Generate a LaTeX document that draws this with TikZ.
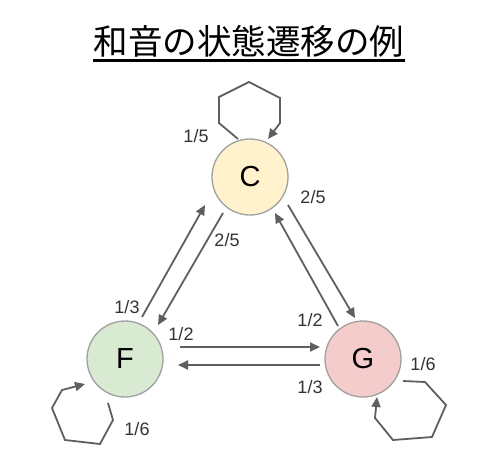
\documentclass[tikz,border=0pt]{standalone}
\usepackage{fontspec}
\setmainfont{Liberation Sans}
\newfontfamily\cjkfont{Noto Sans CJK JP}
\usetikzlibrary{arrows.meta,calc}
\definecolor{linegray}{HTML}{5F5F5F}
\definecolor{bordergray}{HTML}{A0A0A0}
\definecolor{cfill}{HTML}{FFF2CC}
\definecolor{ffill}{HTML}{D9EAD3}
\definecolor{gfill}{HTML}{F4CCCC}
\definecolor{labelcol}{HTML}{333333}
\tikzset{
  chord/.style={circle, draw=bordergray, line width=1.3pt, minimum size=76pt, inner sep=0pt,
    font=\fontsize{29}{31}\selectfont},
  arr/.style={draw=linegray, line width=1.8pt, -{Triangle[length=10pt,width=9pt]}, line join=miter},
  prob/.style={font=\fontsize{18}{20}\selectfont, text=labelcol, inner sep=0pt}
}
\begin{document}
\begin{tikzpicture}[x=1pt,y=-1pt]
\useasboundingbox (0,0) rectangle (500,469);
\fill[white] (0,0) rectangle (500,469);
% title
\node[anchor=base, inner sep=0pt, font=\cjkfont\fontsize{34.5}{36}\selectfont] (title) at (249,54.5) {和音の状態遷移の例};
\draw[line width=2.2pt] ($(title.base west)+(-1,6)$) -- ($(title.base east)+(1,6)$);
% nodes
\node[chord, fill=cfill] (C) at (250,177) {C};
\node[chord, fill=ffill] (F) at (125,359) {F};
\node[chord, fill=gfill] (G) at (363,359) {G};
% self loops
\draw[arr] ($(C)+(-12,-38)$) -- ($(C)+(-31,-54)$) -- ($(C)+(-31,-80)$) -- ($(C)+(-1,-95)$)
  -- ($(C)+(30,-79)$) -- ($(C)+(30,-54)$) -- ($(C)+(18,-38)$);
\draw[arr] ($(F)+(-17,44)$) -- ($(F)+(-12,61)$) -- ($(F)+(-25,85)$) -- ($(F)+(-60,81)$)
  -- ($(F)+(-73,49)$) -- ($(F)+(-63,31)$) -- ($(F)+(-40,25)$);
\draw[arr] ($(G)+(40,22)$) -- ($(G)+(62,23)$) -- ($(G)+(83,46)$) -- ($(G)+(69,78)$)
  -- ($(G)+(30,81)$) -- ($(G)+(12,59)$) -- ($(G)+(14,38)$);
% transitions
\draw[arr] ($(F)+(17,-42)$) -- ($(C)+(-45,28)$);
\draw[arr] ($(C)+(-27,36)$) -- ($(F)+(33,-34)$);
\draw[arr] ($(C)+(38,28)$) -- ($(G)+(-8,-41)$);
\draw[arr] ($(G)+(-25,-33)$) -- ($(C)+(25,36)$);
\draw[arr] ($(F)+(55,-12)$) -- ($(G)+(-43,-12)$);
\draw[arr] ($(G)+(-43,6)$) -- ($(F)+(53,6)$);
% labels
\node[prob] (l1) at (196,136) {1/5};
\node[prob] (l2) at (313,197) {2/5};
\node[prob] (l3) at (227,240) {2/5};
\node[prob] (l4) at (127,307) {1/3};
\node[prob] (l5) at (181,334) {1/2};
\node[prob] (l6) at (137,429) {1/6};
\node[prob] (l7) at (310,320) {1/2};
\node[prob] (l8) at (310,387) {1/3};
\node[prob] (l9) at (423,364) {1/6};
\end{tikzpicture}
\end{document}
